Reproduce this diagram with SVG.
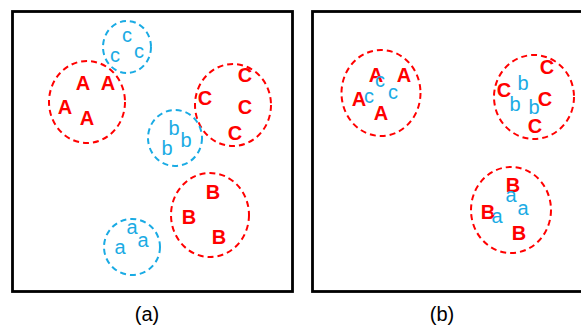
<svg xmlns="http://www.w3.org/2000/svg" width="581" height="328" viewBox="0 0 581 328">
<style>
.frame{fill:none;stroke:#000;stroke-width:2.8}
.rc{fill:none;stroke:#FF0000;stroke-width:2;stroke-dasharray:6 4}
.bc{fill:none;stroke:#1AABE4;stroke-width:2;stroke-dasharray:6 4}
.R{font-family:"Liberation Sans",Arial,sans-serif;font-weight:bold;font-size:20px;fill:#FF0000;text-anchor:middle}
.Bl{font-family:"Liberation Sans",Arial,sans-serif;font-size:20px;fill:#1AABE4;text-anchor:middle}
.lbl{font-family:"Liberation Sans",Arial,sans-serif;font-size:20px;fill:#000;text-anchor:middle}
</style>
<rect width="581" height="328" fill="#fff"/>
<g id="panel-a">
<rect class="frame" x="12.5" y="11.5" width="280" height="280"/>
<g id="a-A"><ellipse class="rc" cx="87" cy="102" rx="38" ry="41"/>
<text class="R" x="83" y="90">A</text><text class="R" x="108" y="90">A</text><text class="R" x="65" y="114">A</text><text class="R" x="87" y="125">A</text></g>
<g id="a-c"><ellipse class="bc" cx="127" cy="47" rx="24" ry="26"/>
<text class="Bl" x="127" y="42">c</text><text class="Bl" x="115" y="62">c</text><text class="Bl" x="139" y="58">c</text></g>
<g id="a-C"><ellipse class="rc" cx="233" cy="105" rx="38" ry="41"/>
<text class="R" x="245" y="82">C</text><text class="R" x="205" y="105">C</text><text class="R" x="245" y="114">C</text><text class="R" x="235" y="140">C</text></g>
<g id="a-b"><ellipse class="bc" cx="175" cy="138" rx="27" ry="28"/>
<text class="Bl" x="174" y="135">b</text><text class="Bl" x="186" y="147">b</text><text class="Bl" x="167" y="155">b</text></g>
<g id="a-B"><ellipse class="rc" cx="210" cy="215" rx="39" ry="42"/>
<text class="R" x="213" y="199">B</text><text class="R" x="189" y="224">B</text><text class="R" x="219" y="244">B</text></g>
<g id="a-a"><ellipse class="bc" cx="132" cy="247" rx="28" ry="28"/>
<text class="Bl" x="132" y="234">a</text><text class="Bl" x="143" y="247">a</text><text class="Bl" x="120" y="254">a</text></g>
</g>
<g id="panel-b">
<rect class="frame" x="312.5" y="11.5" width="280" height="280"/>
<g id="b-A"><ellipse class="rc" cx="381" cy="93" rx="39.5" ry="43"/>
<text class="R" x="376" y="82">A</text><text class="R" x="404" y="82">A</text><text class="R" x="359" y="106">A</text><text class="R" x="381" y="120">A</text>
<text class="Bl" x="380" y="87">c</text><text class="Bl" x="369" y="103">c</text><text class="Bl" x="393" y="99">c</text></g>
<g id="b-C"><ellipse class="rc" cx="534" cy="97" rx="40" ry="42"/>
<text class="R" x="547" y="74">C</text><text class="R" x="504" y="97">C</text><text class="R" x="545" y="106">C</text><text class="R" x="535" y="133">C</text>
<text class="Bl" x="523" y="90">b</text><text class="Bl" x="515" y="111">b</text><text class="Bl" x="534" y="114">b</text></g>
<g id="b-B"><ellipse class="rc" cx="511" cy="210" rx="40" ry="43"/>
<text class="R" x="513" y="192">B</text><text class="R" x="488" y="219">B</text><text class="R" x="519" y="240">B</text>
<text class="Bl" x="511" y="202">a</text><text class="Bl" x="497" y="223">a</text><text class="Bl" x="523" y="215">a</text></g>
</g>
<text id="label-a" class="lbl" x="147" y="321">(a)</text>
<text id="label-b" class="lbl" x="442" y="321">(b)</text>
</svg>
